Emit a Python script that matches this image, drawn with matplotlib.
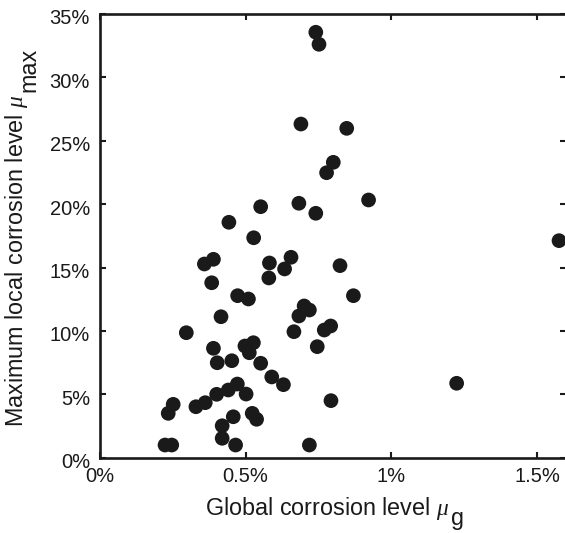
"""
Scatter of maximum local corrosion level against global corrosion level.
"""
import numpy as np
import matplotlib
matplotlib.use("Agg")
import matplotlib.pyplot as plt
from matplotlib.ticker import FuncFormatter, MultipleLocator
from matplotlib.transforms import offset_copy

# global corrosion level (%)
mu_g = [0.359, 0.390, 0.384, 0.473, 0.510, 0.416, 0.297, 0.582, 0.656, 0.634,
        0.580, 0.390, 0.403, 0.453, 0.498, 0.527, 0.513, 0.552, 0.590, 0.630,
        0.666, 0.701, 0.719, 0.683, 0.770, 0.792, 0.746, 0.793, 0.719, 0.252,
        0.235, 0.330, 0.362, 0.401, 0.441, 0.472, 0.502, 0.523, 0.538, 0.458,
        0.420, 0.420, 0.466, 0.224, 0.247, 0.741, 0.752, 0.690, 0.847, 0.801,
        0.778, 0.922, 0.552, 0.683, 0.741, 0.443, 0.528, 0.824, 0.870, 1.575,
        1.224]
# maximum local corrosion level (%)
mu_max = [15.28, 15.65, 13.80, 12.78, 12.52, 11.12, 9.86, 15.36, 15.81, 14.89,
          14.18, 8.63, 7.49, 7.65, 8.81, 9.07, 8.28, 7.45, 6.37, 5.76,
          9.94, 11.97, 11.65, 11.18, 10.07, 10.39, 8.76, 4.50, 1.00, 4.21,
          3.50, 4.02, 4.34, 5.00, 5.34, 5.81, 5.02, 3.50, 3.03, 3.23,
          2.52, 1.53, 1.00, 1.00, 1.00, 33.56, 32.61, 26.32, 25.98, 23.30,
          22.48, 20.33, 19.80, 20.07, 19.28, 18.57, 17.35, 15.15, 12.78, 17.12,
          5.87]

x_ticks = [0, 0.5, 1.0, 1.5]
y_ticks = [0, 5, 10, 15, 20, 25, 30, 35]

W, H = 565, 533
ink = "#1a1a1a"

plt.rcParams['font.family'] = ['Liberation Sans', 'DejaVu Sans']
plt.rcParams['mathtext.fontset'] = 'custom'
plt.rcParams['mathtext.it'] = 'Liberation Serif:italic'
plt.rcParams['mathtext.rm'] = 'Liberation Sans'

fig = plt.figure(figsize=(W / 100, H / 100), dpi=100)
ax = fig.add_axes([99.7 / W, 75.3 / H, 466.6 / W, 443.7 / H])

ax.scatter(mu_g, mu_max, s=112, color=ink, edgecolors='none', zorder=3)

ax.set_xlim(0, 1.6)
ax.set_ylim(0, 35)
ax.xaxis.set_major_locator(MultipleLocator(0.5))
ax.yaxis.set_major_locator(MultipleLocator(5))
ax.set_xticks(x_ticks)
ax.set_yticks(y_ticks)
ax.xaxis.set_major_formatter(FuncFormatter(lambda v, p: f"{v:g}%"))
ax.yaxis.set_major_formatter(FuncFormatter(lambda v, p: f"{v:g}%"))

for s in ax.spines.values():
    s.set_linewidth(1.9)
    s.set_color(ink)
ax.tick_params(direction='in', length=4, width=1.5, color=ink,
               top=True, right=True, labelsize=14.5, labelcolor=ink, pad=7)

# MATLAB-style y tick labels sit a little low
for lab in ax.get_yticklabels():
    lab.set_transform(offset_copy(lab.get_transform(), fig=fig, y=-3, units='dots'))

# axis labels with full-size subscripts
xl = fig.text(205 / W, (H - 515) / H, r"Global corrosion level $\mu$",
              fontsize=16.8, color=ink, ha='left', va='baseline')
yl = fig.text(23 / W, (H - 427) / H, r"Maximum local corrosion level $\mu$",
              fontsize=16.8, color=ink, ha='left', va='baseline',
              rotation=90, rotation_mode='anchor')

fig.canvas.draw()
r = fig.canvas.get_renderer()
bx = xl.get_window_extent(r)
fig.text((bx.x1 + 2) / W, (H - 525) / H, "g", fontsize=16.8, color=ink,
         ha='left', va='baseline')
by = yl.get_window_extent(r)
fig.text(35 / W, (by.y1 + 2) / H, "max", fontsize=16.8, color=ink,
         ha='left', va='baseline', rotation=90, rotation_mode='anchor')

fig.savefig("out.png", dpi=100)
